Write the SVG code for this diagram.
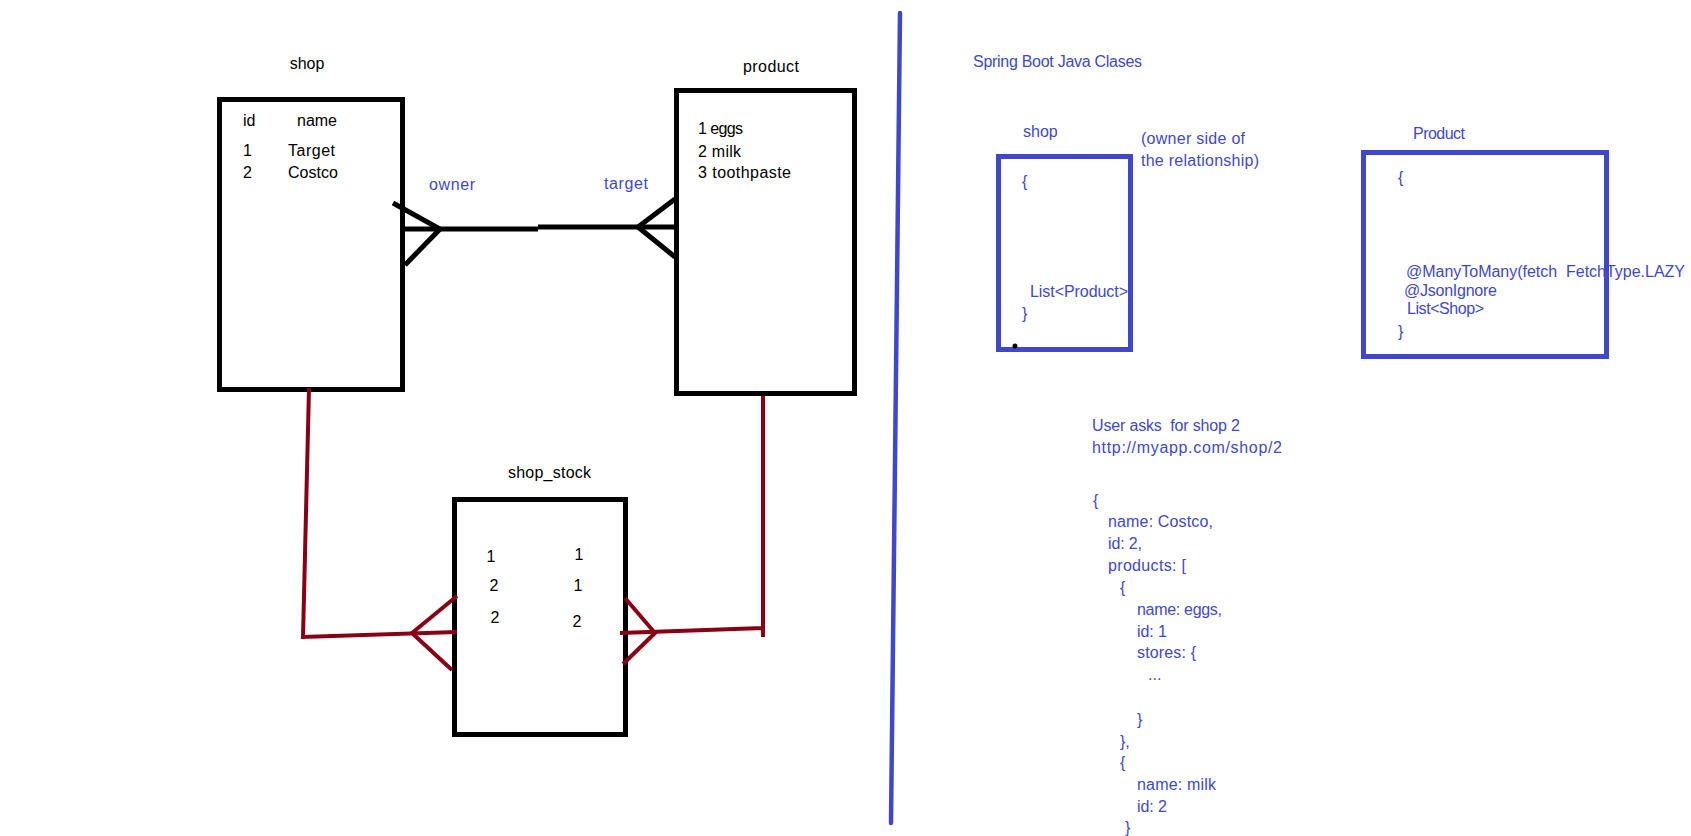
<svg xmlns="http://www.w3.org/2000/svg" width="1691" height="836" viewBox="0 0 1691 836">
  <style>
    text { font-family: "Liberation Sans", Arial, sans-serif; font-size: 16px; fill: #000; }
    .blue { fill: #3F48CC; }
    .pre { white-space: pre; }
    .box { fill: none; stroke: #000; stroke-width: 5; }
    .bbox { fill: none; stroke: #3F48CC; stroke-width: 5; }
    .er { fill: none; stroke: #000; stroke-width: 5; }
    .rel { fill: none; stroke: #880015; stroke-width: 4; }
    .divider { fill: none; stroke: #3F48CC; stroke-width: 4.5; stroke-linecap: round; }
  </style>
  <rect width="1691" height="836" fill="#fff"/>

  <!-- database tables -->
  <g id="shop">
    <text x="307" y="69" text-anchor="middle">shop</text>
    <rect class="box" x="219.5" y="99.5" width="183" height="290"/>
    <text x="243" y="126">id</text>
    <text x="297" y="126" textLength="40">name</text>
    <text x="243" y="156">1</text>
    <text x="288" y="156" textLength="47">Target</text>
    <text x="243" y="178">2</text>
    <text x="288" y="178" textLength="50">Costco</text>
  </g>

  <g id="product">
    <text x="743" y="72" textLength="56">product</text>
    <rect class="box" x="676.5" y="90.5" width="178" height="303"/>
    <text x="698" y="134" textLength="45">1 eggs</text>
    <text x="698" y="157" textLength="43">2 milk</text>
    <text x="698" y="178" textLength="93">3 toothpaste</text>
  </g>

  <g id="shop_stock">
    <text x="508" y="478" textLength="83">shop_stock</text>
    <rect class="box" x="454.5" y="499.5" width="171" height="235"/>
    <text x="491" y="562" text-anchor="middle">1</text>
    <text x="494" y="591" text-anchor="middle">2</text>
    <text x="495" y="623" text-anchor="middle">2</text>
    <text x="579" y="560" text-anchor="middle">1</text>
    <text x="578" y="591" text-anchor="middle">1</text>
    <text x="577" y="627" text-anchor="middle">2</text>
  </g>

  <!-- relationships -->
  <g id="connectors">
    <!-- shop many-to-many product -->
    <path class="er" d="M403,229 L538,229 M538,227 L675,227"/>
    <path class="er" d="M393,203 L440,229 L405,265"/>
    <path class="er" d="M675,199 L638,227 L675,257"/>
    <text class="blue" x="429" y="190" textLength="46">owner</text>
    <text class="blue" x="604" y="189" textLength="44">target</text>

    <!-- join table links -->
    <path class="rel" d="M309,388 L303,637 L457,632"/>
    <path class="rel" d="M457,596 L412,633 L452,670"/>
    <path class="rel" d="M763,396 L763,637 M763,628 L620,633"/>
    <path class="rel" d="M625,598 L655,633 L623,664"/>
  </g>

  <!-- separator -->
  <path class="divider" d="M900,13 L891,823"/>

  <!-- Java classes -->
  <text class="blue" x="973" y="67" textLength="169">Spring Boot Java Clases</text>

  <g id="java-shop">
    <text class="blue" x="1023" y="137">shop</text>
    <text class="blue" x="1141" y="144" textLength="104">(owner side of</text>
    <text class="blue" x="1141" y="166" textLength="118">the relationship)</text>
    <text class="blue" x="1022" y="187">{</text>
    <text class="blue" x="1030" y="297" textLength="98">List&lt;Product&gt;</text>
    <text class="blue" x="1022" y="319">}</text>
    <rect class="bbox" x="998.5" y="156.5" width="132" height="193"/>
    <circle cx="1015" cy="346" r="2.5" fill="#000"/>
  </g>

  <g id="java-product">
    <text class="blue" x="1413" y="139" textLength="52">Product</text>
    <text class="blue" x="1398" y="183">{</text>
    <text class="blue pre" x="1406" y="277" textLength="279">@ManyToMany(fetch  FetchType.LAZY</text>
    <text class="blue" x="1404" y="296" textLength="93">@JsonIgnore</text>
    <text class="blue" x="1407" y="314" textLength="77">List&lt;Shop&gt;</text>
    <text class="blue" x="1398" y="337">}</text>
    <rect class="bbox" x="1363.5" y="152.5" width="243" height="204"/>
  </g>

  <!-- example request and response -->
  <g id="request">
    <text class="blue pre" x="1092" y="431" textLength="148">User asks  for shop 2</text>
    <text class="blue" x="1092" y="453" textLength="190">http://myapp.com/shop/2</text>
    <text class="blue" x="1093" y="506">{</text>
    <text class="blue" x="1108" y="527" textLength="105">name: Costco,</text>
    <text class="blue" x="1108" y="549" textLength="34">id: 2,</text>
    <text class="blue" x="1108" y="571" textLength="78">products: [</text>
    <text class="blue" x="1120" y="593">{</text>
    <text class="blue" x="1137" y="615" textLength="85">name: eggs,</text>
    <text class="blue" x="1137" y="637" textLength="30">id: 1</text>
    <text class="blue" x="1137" y="658" textLength="59">stores: {</text>
    <text class="blue" x="1148" y="680">...</text>
    <text class="blue" x="1137" y="725">}</text>
    <text class="blue" x="1120" y="747">},</text>
    <text class="blue" x="1120" y="768">{</text>
    <text class="blue" x="1137" y="790" textLength="79">name: milk</text>
    <text class="blue" x="1137" y="812" textLength="30">id: 2</text>
    <text class="blue" x="1125" y="833">}</text>
  </g>
</svg>
